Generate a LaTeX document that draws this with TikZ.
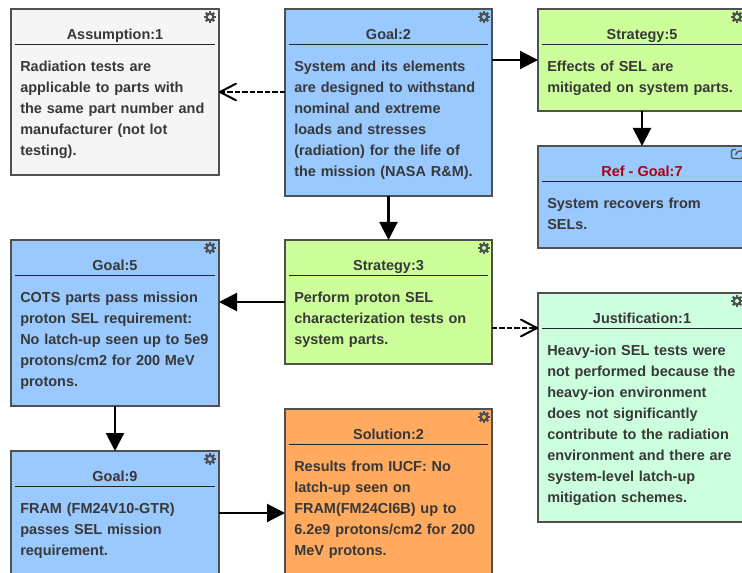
\documentclass[tikz,border=0pt]{standalone}
\usepackage{fontspec}
\setmainfont{Liberation Sans}
\usetikzlibrary{arrows.meta}
\definecolor{gblue}{HTML}{99C9FF}
\definecolor{ggreen}{HTML}{CCFF99}
\definecolor{gorange}{HTML}{FFAA5E}
\definecolor{gmint}{HTML}{CCFFDD}
\definecolor{ggrey}{HTML}{F5F5F5}
\definecolor{ink}{HTML}{383838}
\definecolor{edge}{HTML}{505050}
\definecolor{refred}{HTML}{B00010}
\tikzset{
  gsnbox/.style={draw=edge,line width=1pt,anchor=north west,inner sep=0pt,outer sep=0pt},
  gsntitle/.style={anchor=base,inner sep=0pt,text=ink,font=\fontsize{10.85}{13}\selectfont\bfseries},
  gsnbody/.style={anchor=base west,inner sep=0pt,text=ink,text width=148pt,align=left,font=\fontsize{10.85}{15.75}\selectfont\bfseries},
  gsnrule/.style={draw=black!85,line width=0.7pt},
  solidlink/.style={draw=black,line width=1.6pt,-{Triangle[length=13.5pt,width=13.5pt]}},
  dashlink/.style={draw=black,line width=1.6pt,dash pattern=on 4pt off 1.6pt,-{Straight Barb[length=12pt,width=12.5pt,line width=1.5pt,round=false]}},
  gearicon/.pic={
    \foreach \a in {0,45,...,315}{\draw[edge,line width=1.7pt] (0,0) -- (\a:6);}
    \fill[edge] (0,0) circle (4.5);
    \fill[#1] (0,0) circle (2);
  }
}
% name, x, y, w, h, fill, title, body
\newcommand{\gsnnode}[9][ink]{%
  \node[gsnbox,fill=#7,minimum width=#5*0.75pt,minimum height=#6*0.75pt] (#2) at (#3,#4) {};
  \node[gsntitle,text=#1] (#2t) at ({#3+#5/2},{#4+30.5}) {#8};
  \coordinate (#2l) at ({#3+4},{#4+35.5});
  \coordinate (#2r) at ({#3+#5-4},{#4+35.5});
  \draw[gsnrule] (#2l) -- (#2r);
  \node[gsnbody] (#2b) at ({#3+9},{#4+62.8}) {#9};
}
\begin{document}
\begin{tikzpicture}[x=0.75pt,y=-0.75pt]
\useasboundingbox (0,0) rectangle (742,573);
\begin{scope}
\clip (0,0) rectangle (742,573);
\gsnnode{asm}{11}{9}{208}{166}{ggrey}{Assumption:1}{Radiation tests are\\applicable to parts with\\the same part number and\\manufacturer (not lot\\testing).}
\gsnnode{gtwo}{285}{9}{207}{187}{gblue}{Goal:2}{System and its elements\\are designed to withstand\\nominal and extreme\\loads and stresses\\(radiation) for the life of\\the mission (NASA R\&M).}
\gsnnode{sfive}{538}{9}{208}{102}{ggreen}{Strategy:5}{Effects of SEL are\\mitigated on system parts.}
\gsnnode[refred]{gseven}{538}{146}{208}{102}{gblue}{Ref - Goal:7}{System recovers from\\SELs.}
\gsnnode{gfive}{11}{240}{208}{166}{gblue}{Goal:5}{COTS parts pass mission\\proton SEL requirement:\\No latch-up seen up to 5e9\\protons/cm2 for 200 MeV\\protons.}
\gsnnode{sthree}{285}{240}{207}{124}{ggreen}{Strategy:3}{Perform proton SEL\\characterization tests on\\system parts.}
\gsnnode{jone}{538}{293}{208}{229}{gmint}{Justification:1}{Heavy-ion SEL tests were\\not performed because the\\heavy-ion environment\\does not significantly\\contribute to the radiation\\environment and there are\\system-level latch-up\\mitigation schemes.}
\gsnnode{gnine}{11}{451}{208}{124}{gblue}{Goal:9}{FRAM (FM24V10-GTR)\\passes SEL mission\\requirement.}
\gsnnode{soltwo}{285}{409}{207}{208}{gorange}{Solution:2}{Results from IUCF: No\\latch-up seen on\\FRAM(FM24CI6B) up to\\6.2e9 protons/cm2 for 200\\MeV protons.}
\end{scope}
% icons
\pic at (210,17) {gearicon=ggrey};
\pic at (484,17) {gearicon=gblue};
\pic at (737,17) {gearicon=ggreen};
\pic at (210,248) {gearicon=gblue};
\pic at (484,248) {gearicon=ggreen};
\pic at (737,301) {gearicon=gmint};
\pic at (210,459) {gearicon=gblue};
\pic at (484,417) {gearicon=gorange};
% external-reference icon
\draw[edge,line width=1pt,rounded corners=1.5pt] (736,149.5) -- (731.5,149.5) -- (731.5,158.5) -- (742.5,158.5) -- (742.5,153);
\draw[edge,line width=1pt] (735.5,155) .. controls (736,152) and (738,151) .. (742,151);
% connectors
\draw[dashlink] (asm.east -| gtwo.west) -- (asm.east);
\draw[solidlink] (sfive.west -| gtwo.east) -- (sfive.west);
\draw[solidlink] (gtwo.south) -- (gtwo.south |- sthree.north);
\draw[solidlink] (sfive.south) -- (gseven.north);
\draw[solidlink] (sthree.west) -- (sthree.west -| gfive.east);
\coordinate (jin) at (jone.north west |- 0,328);
\draw[dashlink] (jin -| sthree.east) -- (jin);
\draw[solidlink] (gfive.south) -- (gnine.north);
\draw[solidlink] (gnine.east) -- (gnine.east -| soltwo.west);
\end{tikzpicture}
\end{document}
